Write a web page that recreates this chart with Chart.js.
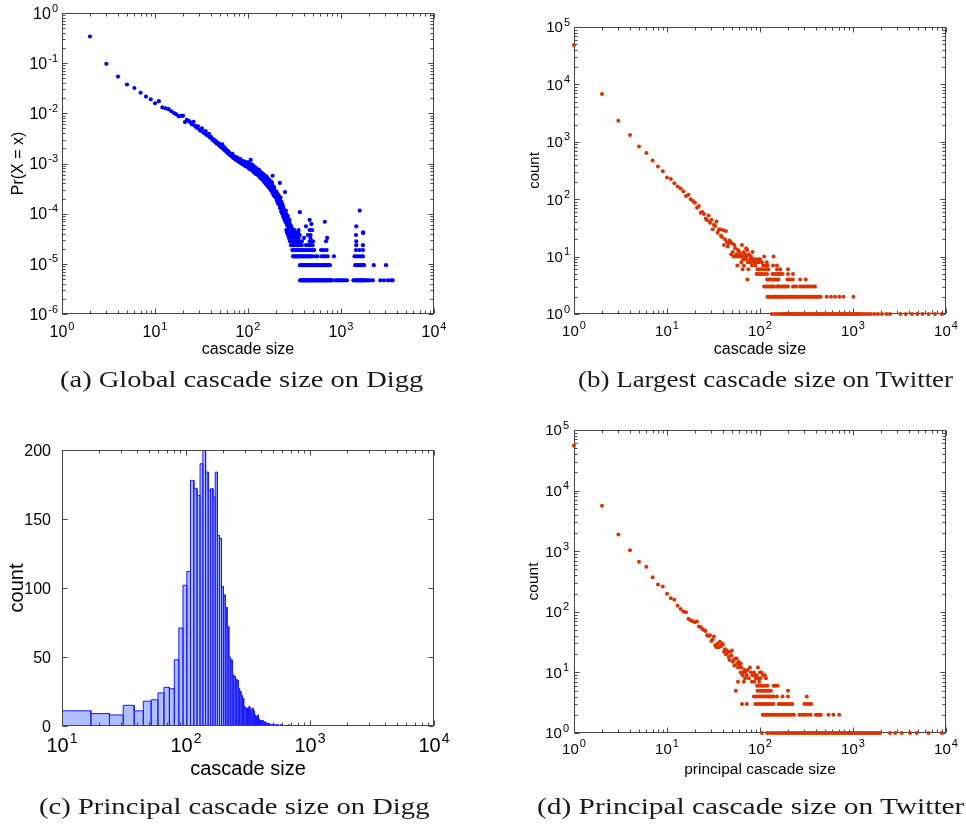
<!DOCTYPE html>
<html>
<head>
<meta charset="utf-8">
<title>Cascade size distributions</title>
<script src="https://cdn.jsdelivr.net/npm/chart.js@4.4.1/dist/chart.umd.min.js"></script>
<style>
  html, body { margin: 0; padding: 0; background: #fff; }
  #wrap { position: relative; width: 966px; height: 824px; overflow: hidden; }
  #wrap canvas { position: absolute; left: 0; top: 0; width: 966px; height: 824px; }
  .cap {
    position: absolute; white-space: nowrap; transform-origin: 0 0;
    font-family: "Liberation Serif", "Times New Roman", serif;
    font-size: 23px; line-height: 23px; color: #1a1a1a;
  }
</style>
</head>
<body>
<div id="wrap">
  <canvas id="chartA" width="966" height="824"></canvas>
  <canvas id="chartB" width="966" height="824"></canvas>
  <canvas id="chartC" width="966" height="824"></canvas>
  <canvas id="chartD" width="966" height="824"></canvas>
  <div class="cap" data-w="363" style="left:60px;top:368px">(a) Global cascade size on Digg</div>
  <div class="cap" data-w="375" style="left:578px;top:368px">(b) Largest cascade size on Twitter</div>
  <div class="cap" data-w="391" style="left:39px;top:795px">(c) Principal cascade size on Digg</div>
  <div class="cap" data-w="428" style="left:537px;top:795px">(d) Principal cascade size on Twitter</div>
</div>
<script>
// ---- (a) Digg global cascade size, Pr(X = x) ----
const aXExp = [0, 1, 2, 3, 4];
const aYExp = [-6, -5, -4, -3, -2, -1, 0];
const aHead = [[2,0.34],[3,0.097],[4,0.054],[5,0.0376],[6,0.032],[7,0.0257],[8,0.0216],[9,0.019],[10,0.0159],[11,0.0175],
  [12,0.0131],[13,0.0125],[14,0.0121],[15,0.011],[16,0.0101],[17,0.0095],[18,0.0087],[19,0.0089],[20,0.0089],[21,0.0067],
  [22,0.0074],[23,0.0071],[24,0.0066],[25,0.006],[26,0.0068],[27,0.0056],[28,0.0052],[29,0.0055],[30,0.0047],[31,0.0045],
  [32,0.005],[33,0.0042],[34,0.004],[35,0.0044],[36,0.0037],[37,0.0036],[38,0.0039],[39,0.0033],[40,0.0034],[41,0.0031],
  [42,0.0029],[43,0.003],[44,0.0027],[45,0.0028],[46,0.0025],[47,0.0026],[48,0.0024],[49,0.0025],[50,0.0022],[51,0.0023],
  [52,0.0021],[53,0.0024],[54,0.002],[55,0.0019],[56,0.0021],[57,0.0018],[58,0.0019],[59,0.0017],[60,0.0018],[61,0.0016],
  [62,0.0017],[63,0.0015],[64,0.0016],[65,0.00145],[66,0.0015],[67,0.0014],[68,0.00155],[69,0.0013],[70,0.00142],[71,0.00128],
  [72,0.00135],[73,0.0012],[74,0.00128],[75,0.00118],[76,0.00132],[77,0.00115],[78,0.00125],[79,0.0011],[80,0.0012],[81,0.00115],
  [82,0.00105],[83,0.00122],[84,0.00108],[85,0.001],[86,0.00113],[87,0.00098],[88,0.00106],[89,0.00095],[90,0.00102],[91,0.0011],
  [92,0.00094],[93,0.00099],[94,0.00088],[95,0.00096],[96,0.00091],[97,0.00105],[98,0.00086],[99,0.00093],[100,0.00095]];
const aBody = [[101,0.00105],[102,0.00088],[103,0.00078],[104,0.00098],[105,0.00082],[106,0.00092],[107,0.00118],[108,0.00085],
  [109,0.00074],[110,0.00079],[111,0.00095],[112,0.0009],[113,0.00072],[114,0.00088],[115,0.00083],[116,0.00066],[117,0.00076],
  [118,0.00068],[119,0.00085],[120,0.0008],[121,0.00062],[122,0.00071],[123,0.00064],[124,0.00079],[125,0.00074],[126,0.00067],
  [127,0.0006],[128,0.00069],[129,0.00058],[130,0.00063],[131,0.00075],[132,0.00072],[133,0.00056],[134,0.0007],[135,0.00062],
  [136,0.00051],[137,0.00054],[138,0.00059],[139,0.00066],[140,0.00058],[141,0.00064],[142,0.0005],[143,0.00047],[144,0.00056],
  [145,0.00061],[146,0.00048],[147,0.00053],[148,0.0006],[149,0.00043],[150,0.00052],[151,0.00058],[152,0.00045],[153,0.00049],
  [154,0.0005],[155,0.00039],[156,0.00042],[157,0.00047],[158,0.00055],[159,0.0004],[160,0.00047],[161,0.00052],[162,0.0004],
  [163,0.00035],[164,0.00044],[165,0.00045],[166,0.00036],[167,0.0004],[168,0.00048],[169,0.00033],[170,0.00041],[171,0.00046],
  [172,0.00034],[173,0.00031],[174,0.00038],[175,0.00042],[176,0.00032],[177,0.00029],[178,0.00043],[179,0.00037],[180,0.00036],
  [181,0.00041],[182,0.00029],[183,0.00026],[184,0.00057],[185,0.00033],[186,0.00027],[187,0.00035],[188,0.00031],[189,0.00023],
  [190,0.00025],[191,0.00033],[192,0.00029],[194,0.00027],[195,0.00023],[197,0.00021],[198,0.00027],[200,0.00021],[201,0.00028],
  [203,0.00024],[204,0.00018],[206,0.00019],[207,0.00025],[209,0.00022],[210,0.00016],[212,0.00017],[214,0.00023],[215,0.0002],
  [217,0.00019],[218,0.00015],[220,0.00041],[221,0.00013],[222,0.00018],[224,0.00021],[225,0.00014],[227,0.00011],[228,0.00016],
  [230,0.00017],[231,0.00012],[233,0.0001],[234,0.00014],[236,0.00015],[237,0.000105],[239,0.000088],[240,0.00013],[242,0.00012],
  [243,0.000095],[245,0.000078],[246,0.00011],[248,0.000096],[250,0.00027],[252,0.00007],[253,0.000085],[255,0.000115],[256,0.0001],
  [258,0.000065],[259,0.000075],[261,0.000078],[262,0.00009],[264,0.000058],[265,0.000068],[267,0.00009],[268,0.00008],[270,0.00005],
  [271,0.00006],[273,0.000062],[274,0.000072],[276,0.000048],[277,0.000055],[279,0.000075],[280,0.000065],[284,0.00005],
  [288,0.000058],[292,0.000045],[296,0.000052],[300,0.00004],[305,0.000047],[310,0.000036],[361,0.000107],[420,0.000056],
  [460,0.000075],[480,0.000062],[670,0.000069],[1460,0.000056],[1590,0.000115],[1730,0.000041]];
const aLevelProb = [4.7e-6, 9.4e-6, 1.41e-5, 1.88e-5, 2.35e-5, 2.82e-5, 3.29e-5, 3.76e-5, 4.23e-5, 4.7e-5];
const aLevelSizes = [
  [362,370,378,386,394,402,411,420,429,438,448,458,468,478,489,500,511,523,535,547,560,573,587,601,615,630,645,661,677,694,711,729,747,766,785,805,870,900,935,970,1010,1060,1110,1160,1360,1400,1440,1480,1520,1560,1600,1640,1680,1720,1760,1810,1870,1950,2050,2200,2650,2900,3200,3450,3600],
  [362,372,383,394,405,417,429,441,454,467,481,495,510,525,541,557,574,592,610,630,650,670,690,715,740,760,1420,1480,1540,1600,1660,1720,1770,2250,3050],
  [305,313,321,330,339,348,357,367,377,387,398,410,422,435,448,462,476,490,530,560,620,650,680,720,840,1400,1470,1550,1640,1720],
  [300,310,322,335,350,365,380,395,415,440,465,490,515,610,650,700,1450,1580,1720],
  [290,302,316,330,345,360,378,420,445,470,495,1460,1720],
  [282,298,315,335,355,380,460,480,500,690,1460],
  [275,292,310,330,350,400,470,710],
  [268,285,305,328,360,440,470,1450],
  [262,280,300,320,345,1730],
  [258,276,295,315,350,460,490]
];

// ---- (b) Twitter largest cascade size, count ----
const bXExp = [0, 1, 2, 3, 4];
const bYExp = [0, 1, 2, 3, 4, 5];
const bHead = [[1,48500],[2,6800],[3,2320],[4,1320],[5,830],[6,635],[7,471],[8,370],[9,308],[10,238],[11,224],[12,190],
  [13,166],[14,153],[15,138],[16,114],[17,120],[18,100],[19,93],[20,87],[21,71],[22,76],[23,58],[24,60],[25,55],[26,46],
  [27,43],[28,52],[29,39],[30,44],[31,30],[32,36],[33,34],[34,41],[35,26],[36,29],[37,30],[38,23],[39,22],[40,29],[41,16],
  [42,20],[43,28],[44,18],[45,15],[46,17],[47,19],[48,18],[49,11],[50,17],[51,12],[53,16],[54,14],[56,11],[58,13],[60,12],
  [62,11],[64,16],[67,12],[69,11],[71,14],[73,13],[76,11],[83,12]];
const bLevelCount = [1, 2, 3, 4, 5, 6, 7, 8, 9, 10];
const bLevelSizes = [
  [134,145,155,165,172,180,188,196,205,214,223,232,242,252,262,273,285,297,310,323,337,351,366,381,397,414,431,449,468,488,508,530,552,575,600,625,651,678,707,737,768,800,834,869,905,943,983,1025,1068,1113,1160,1210,1290,1380,1480,1560,1700,1850,2050,2300,2500,3230,3700,4300,4900,5600,6500,7600,9000],
  [120,124,128,132,136,140,144,148,152,156,160,165,170,175,180,185,190,196,202,208,214,220,227,234,241,248,256,264,272,280,290,300,310,320,330,342,354,366,378,392,405,420,435,450,522,581,641,714,789,1009],
  [111,116,121,126,131,136,141,152,157,162,168,174,180,186,193,200,226,235,245,270,282,295,310,325,340,360,375,390],
  [73,119,124,129,134,140,146,152,158,197,205,214,226,270,310],
  [92,96,101,106,112,119,136,142,148,156,160,167,175,200,226],
  [65,75,94,99,103,110,116,123,152,165,200],
  [57,67,82,89,108,114,120,138,152],
  [63,74,79,86,92,97,105,118],
  [66,70,78,84,88,95,100],
  [52,55,59,61,65,68,72,80,111,140]
];

// ---- (c) Digg principal cascade size, histogram ----
const cXExp = [1, 2, 3, 4];
const cYTicks = [0, 50, 100, 150, 200];
const cBinStart = 10.05;
const cBinWidth = 7.045;
const cCounts = [11,9,8,15,11,18,19,24,28,27,48,71,102,112,178,172,167,190,205,184,171,172,166,184,138,136,101,95,86,72,
  50,48,37,36,34,33,27,25,22,20,14,13,13,12,14,12,9,13,11,8,7,5,8,5,4,4,3,4,3,2,
  3,2,1,2,1,2,1,0,1,1,0,1,0,0,1,0,1,0,0,0,0,1,0,0,0,0,0,0,0,0,0,0,0,1,0,1];
const cLastEdge = 3560;

// ---- (d) Twitter principal cascade size, count ----
const dXExp = [0, 1, 2, 3, 4];
const dYExp = [0, 1, 2, 3, 4, 5];
const dHead = [[1,55000],[2,5650],[3,1880],[4,1040],[5,667],[6,552],[7,373],[8,281],[9,261],[10,198],[11,168],[12,158],
  [13,126],[14,111],[15,101],[16,98],[17,77],[18,72],[19,70],[20,67],[21,69],[22,57],[23,56],[24,52],[25,50],[26,48],[27,41],
  [28,40],[29,41],[30,33],[31,35],[32,39],[33,28],[34,26],[35,30],[36,26],[37,32],[38,27],[39,30],[40,29],[41,22],[42,24],
  [43,20],[44,23],[45,21],[46,18],[47,16],[48,22],[49,19],[50,23],[51,15],[52,16],[53,13],[54,17],[55,5],[56,17],[57,14],
  [58,12],[59,15],[60,13],[62,14],[63,12],[68,11],[74,11],[78,12],[95,12]];
const dLevelCount = [1, 2, 3, 4, 5, 6, 7, 8, 9, 10];
const dLevelSizes = [
  [105,120,130,140,150,160,170,180,190,200,211,222,234,246,259,272,286,300,315,331,348,366,385,405,425,447,470,494,519,546,574,603,634,666,700,736,774,813,855,898,944,992,1040,1100,1160,1220,1280,1350,1420,1500,1580,1660,1750,1850,1950,2500,2840,3340,4110,4840,6470,9000],
  [107,112,117,122,128,134,140,146,152,158,165,172,180,188,196,204,213,222,232,265,280,295,310,330,350,400,420,440,450,545,615,710],
  [64,72,89,94,99,104,109,115,121,127,134,140,159,166,174,182,190,200,211,222,300,320,340,355],
  [86,90,95,100,105,110,116,122,128,134,140,152,175,200,318],
  [94,100,106,112,118,124,131,200],
  [93,97,103,108,114,120,140,147,155],
  [58,67,82,87,98],
  [69,76,90,96,101,116],
  [65,72,83,88,92,108,113],
  [62,66,70,80,86,100,104]
];

const SANS = '"Liberation Sans", Arial, Helvetica, sans-serif';

function logMinor(min, max) {
  const out = [];
  for (let e = Math.floor(Math.log10(min)); Math.pow(10, e) < max; e++) {
    for (let m = 2; m <= 9; m++) {
      const v = m * Math.pow(10, e);
      if (v > min && v < max) out.push(v);
    }
  }
  return out;
}

function points(head, levelValues, levelSizes) {
  const pts = head.map(([x, y]) => ({x, y}));
  levelSizes.forEach((xs, i) => xs.forEach(x => pts.push({x, y: levelValues[i]})));
  return pts;
}

// "10" with a raised exponent, like MATLAB's log tick labels
function powLabel(ctx, exp, x, y, fs, align) {
  const efs = Math.round(fs * 0.7);
  ctx.font = fs + 'px ' + SANS;
  const w1 = ctx.measureText('10').width;
  ctx.font = efs + 'px ' + SANS;
  const w2 = ctx.measureText(String(exp)).width;
  const x0 = align === 'center' ? x - (w1 + 1 + w2) / 2 : x - (w1 + 1 + w2);
  ctx.textAlign = 'left';
  ctx.font = fs + 'px ' + SANS;
  ctx.fillText('10', x0, y);
  ctx.font = efs + 'px ' + SANS;
  ctx.fillText(String(exp), x0 + w1 + 1, y - fs * 0.45);
}

// boxed axes with inward ticks on all four sides
function matlabAxes(cfg) {
  const frame = chart => {
    const {ctx, chartArea: a} = chart;
    const xs = chart.scales.x, ys = chart.scales.y;
    const L = Math.round(a.left) + 0.5, R = Math.round(a.right) - 0.5;
    const T = Math.round(a.top) + 0.5, B = Math.round(a.bottom) - 0.5;
    ctx.save();
    ctx.strokeStyle = '#474747';
    ctx.lineWidth = 1;
    ctx.strokeRect(L, T, R - L, B - T);
    ctx.beginPath();
    const vx = (vals, len) => vals.forEach(v => {
      const p = Math.round(xs.getPixelForValue(v)) + 0.5;
      ctx.moveTo(p, B); ctx.lineTo(p, B - len);
      ctx.moveTo(p, T); ctx.lineTo(p, T + len);
    });
    const hy = (vals, len) => vals.forEach(v => {
      const p = Math.round(ys.getPixelForValue(v)) + 0.5;
      ctx.moveTo(L, p); ctx.lineTo(L + len, p);
      ctx.moveTo(R, p); ctx.lineTo(R - len, p);
    });
    vx(cfg.xMajor, 5); vx(cfg.xMinor, 3);
    hy(cfg.yMajor, 5); hy(cfg.yMinor, 3);
    ctx.stroke();
    ctx.restore();
  };
  const labels = chart => {
    const {ctx, chartArea: a} = chart;
    const xs = chart.scales.x, ys = chart.scales.y;
    ctx.save();
    ctx.fillStyle = '#000';
    ctx.textBaseline = 'alphabetic';
    cfg.xLabels.forEach(t => {
      powLabel(ctx, t.exp, xs.getPixelForValue(t.v), a.bottom + cfg.xOff, cfg.xFont, 'center');
    });
    cfg.yLabels.forEach(t => {
      const p = ys.getPixelForValue(t.v) + cfg.yFont * 0.36;
      if (t.exp !== undefined) {
        powLabel(ctx, t.exp, a.left - cfg.yGap, p, cfg.yFont, 'right');
      } else {
        ctx.font = cfg.yFont + 'px ' + SANS;
        ctx.textAlign = 'right';
        ctx.fillText(t.text, a.left - cfg.yGap, p);
      }
    });
    ctx.textAlign = 'center';
    ctx.font = cfg.xTitleFont + 'px ' + SANS;
    ctx.fillText(cfg.xTitle, (a.left + a.right) / 2, a.bottom + cfg.xTitleOff);
    ctx.translate(a.left - cfg.yTitleOff, (a.top + a.bottom) / 2);
    ctx.rotate(-Math.PI / 2);
    ctx.textBaseline = 'middle';
    ctx.font = cfg.yTitleFont + 'px ' + SANS;
    ctx.fillText(cfg.yTitle, 0, 0);
    ctx.restore();
  };
  return {
    id: 'matlabAxes',
    beforeDatasetsDraw(chart) { if (!cfg.frameOnTop) frame(chart); },
    afterDatasetsDraw(chart) { if (cfg.frameOnTop) frame(chart); },
    afterDraw(chart) { labels(chart); }
  };
}

function makeChart(id, area, xScale, yScale, datasets, axesCfg, type) {
  return new Chart(document.getElementById(id), {
    type: type || 'scatter',
    data: {datasets},
    options: {
      responsive: false,
      animation: false,
      events: [],
      layout: {padding: {left: area[0], top: area[1], right: 966 - area[2], bottom: 824 - area[3]}},
      scales: {x: Object.assign({display: false}, xScale), y: Object.assign({display: false}, yScale)},
      plugins: {legend: {display: false}, tooltip: {enabled: false}}
    },
    plugins: [matlabAxes(axesCfg)]
  });
}

function scatterSet(data, color, r) {
  return {data, backgroundColor: color, borderWidth: 0, pointRadius: r, pointStyle: 'circle', clip: false};
}

// (a)
makeChart('chartA', [62, 13, 434, 314],
  {type: 'logarithmic', min: 1, max: 1e4},
  {type: 'logarithmic', min: 1e-6, max: 1},
  [scatterSet(points(aHead.concat(aBody), aLevelProb, aLevelSizes), '#0000ff', 2.1)],
  {
    xMajor: aXExp.map(e => Math.pow(10, e)), xMinor: logMinor(1, 1e4),
    yMajor: aYExp.map(e => Math.pow(10, e)), yMinor: logMinor(1e-6, 1),
    xLabels: aXExp.map(e => ({v: Math.pow(10, e), exp: e})),
    yLabels: aYExp.map(e => ({v: Math.pow(10, e), exp: e})),
    xFont: 16, yFont: 16, xOff: 23, yGap: 4,
    xTitle: 'cascade size', xTitleFont: 16, xTitleOff: 40,
    yTitle: 'Pr(X = x)', yTitleFont: 16, yTitleOff: 43
  });

// (b)
makeChart('chartB', [574, 27, 946, 314],
  {type: 'logarithmic', min: 1, max: 1e4},
  {type: 'logarithmic', min: 1, max: 1e5},
  [scatterSet(points(bHead, bLevelCount, bLevelSizes), '#dd3300', 2)],
  {
    xMajor: bXExp.map(e => Math.pow(10, e)), xMinor: logMinor(1, 1e4),
    yMajor: bYExp.map(e => Math.pow(10, e)), yMinor: logMinor(1, 1e5),
    xLabels: bXExp.map(e => ({v: Math.pow(10, e), exp: e})),
    yLabels: bYExp.map(e => ({v: Math.pow(10, e), exp: e})),
    xFont: 15, yFont: 15, xOff: 22, yGap: 4,
    xTitle: 'cascade size', xTitleFont: 16, xTitleOff: 40,
    yTitle: 'count', yTitleFont: 15, yTitleOff: 39
  });

// (c) histogram outline: each bin drawn as a bar sharing its edges with the next one
const cOutline = [{x: cBinStart, y: 0}];
cCounts.forEach((c, k) => {
  const lo = cBinStart + k * cBinWidth, hi = lo + cBinWidth;
  cOutline.push({x: lo, y: c}, {x: hi, y: c}, {x: hi, y: 0});
});
cOutline.push({x: cLastEdge, y: 0});

makeChart('chartC', [62, 450, 434, 726],
  {type: 'logarithmic', min: 10, max: 1e4},
  {type: 'linear', min: 0, max: 200},
  [{
    data: cOutline, showLine: true, fill: 'origin', tension: 0,
    borderColor: '#1818ff', borderWidth: 1, backgroundColor: 'rgba(110,140,250,0.55)',
    pointRadius: 0
  }],
  {
    frameOnTop: true,
    xMajor: cXExp.map(e => Math.pow(10, e)), xMinor: logMinor(10, 1e4),
    yMajor: cYTicks, yMinor: [],
    xLabels: cXExp.map(e => ({v: Math.pow(10, e), exp: e})),
    yLabels: cYTicks.map(v => ({v, text: String(v)})),
    xFont: 20, yFont: 16, xOff: 26, yGap: 11,
    xTitle: 'cascade size', xTitleFont: 20, xTitleOff: 49,
    yTitle: 'count', yTitleFont: 20, yTitleOff: 45
  });

// (d)
makeChart('chartD', [574, 430, 946, 733],
  {type: 'logarithmic', min: 1, max: 1e4},
  {type: 'logarithmic', min: 1, max: 1e5},
  [scatterSet(points(dHead, dLevelCount, dLevelSizes), '#dd3300', 2)],
  {
    xMajor: dXExp.map(e => Math.pow(10, e)), xMinor: logMinor(1, 1e4),
    yMajor: dYExp.map(e => Math.pow(10, e)), yMinor: logMinor(1, 1e5),
    xLabels: dXExp.map(e => ({v: Math.pow(10, e), exp: e})),
    yLabels: dYExp.map(e => ({v: Math.pow(10, e), exp: e})),
    xFont: 15, yFont: 15, xOff: 21, yGap: 5,
    xTitle: 'principal cascade size', xTitleFont: 15.5, xTitleOff: 41,
    yTitle: 'count', yTitleFont: 15.5, yTitleOff: 40
  });

// stretch the serif captions to the width they take in the figure
document.querySelectorAll('.cap').forEach(el => {
  el.style.transform = 'scaleX(' + (Number(el.dataset.w) / el.offsetWidth) + ')';
});
</script>
</body>
</html>
